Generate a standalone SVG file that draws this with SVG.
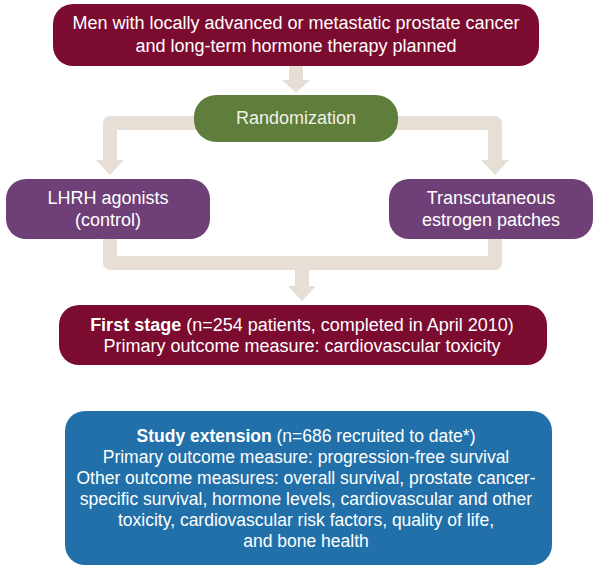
<svg xmlns="http://www.w3.org/2000/svg" width="600" height="571" viewBox="0 0 600 571">
<style>
  text { font-family: "Liberation Sans", Arial, sans-serif; font-size: 18px; fill: #ffffff; text-anchor: middle; }
  .s { font-size: 17.5px; }
  .b { font-weight: bold; }
  .bar { fill: none; stroke: #e7dfd5; stroke-width: 14; stroke-linejoin: round; }
  .head { fill: #e7dfd5; }
  .maroon { fill: #7c0b30; }
  .green { fill: #5f7e3c; }
  .purple { fill: #6f3f78; }
  .blue { fill: #2270a9; }
</style>
<rect width="600" height="571" fill="#ffffff"/>
<g id="connectors">
  <path class="bar" d="M296,66 V82"/>
  <polygon class="head" points="282,80 310,80 296,93"/>
  <path class="bar" d="M110,162 V123 H300 M300,123 H495 V162"/>
  <polygon class="head" points="96,160 124,160 110,175"/>
  <polygon class="head" points="481,160 509,160 495,175"/>
  <path class="bar" d="M110,235 V263 H495 V235"/>
  <path class="bar" d="M302,263 V288"/>
  <polygon class="head" points="288,286 316,286 302,301"/>
</g>
<g id="node-population">
  <rect class="maroon" x="53" y="4" width="486" height="62" rx="20"/>
  <text x="296" y="29">Men with locally advanced or metastatic prostate cancer</text>
  <text x="296" y="52">and long-term hormone therapy planned</text>
</g>
<g id="node-randomization">
  <rect class="green" x="194" y="95" width="204" height="47" rx="22"/>
  <text x="296" y="124" style="fill:#f3f0e4">Randomization</text>
</g>
<g id="node-lhrh">
  <rect class="purple" x="6" y="179" width="204" height="60" rx="20"/>
  <text x="108" y="204">LHRH agonists</text>
  <text x="108" y="226">(control)</text>
</g>
<g id="node-patches">
  <rect class="purple" x="389" y="179" width="204" height="60" rx="20"/>
  <text x="491" y="204">Transcutaneous</text>
  <text x="491" y="226">estrogen patches</text>
</g>
<g id="node-first-stage">
  <rect class="maroon" x="59" y="305" width="488" height="60" rx="20"/>
  <text x="302" y="331"><tspan class="b">First stage</tspan> (n=254 patients, completed in April 2010)</text>
  <text x="302" y="352">Primary outcome measure: cardiovascular toxicity</text>
</g>
<g id="node-extension">
  <rect class="blue" x="65" y="411" width="487" height="154" rx="20"/>
  <text class="s" x="306" y="442"><tspan class="b">Study extension</tspan> (n=686 recruited to date*)</text>
  <text class="s" x="306" y="463">Primary outcome measure: progression-free survival</text>
  <text class="s" x="306" y="484">Other outcome measures: overall survival, prostate cancer-</text>
  <text class="s" x="306" y="505">specific survival, hormone levels, cardiovascular and other</text>
  <text class="s" x="306" y="526">toxicity, cardiovascular risk factors, quality of life,</text>
  <text class="s" x="306" y="547">and bone health</text>
</g>
</svg>
